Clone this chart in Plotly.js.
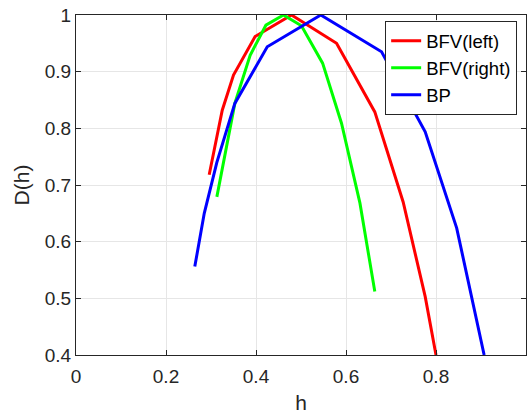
<!DOCTYPE html>
<html>
<head>
<meta charset="utf-8">
<script src="https://cdn.plot.ly/plotly-3.0.1.min.js"></script>
<style>html,body{margin:0;padding:0;background:#fff;}#chart{width:531px;height:414px;}</style>
</head>
<body>
<div id="chart"></div>
<script>
// BFV(left)
const leftH = [0.296, 0.325, 0.350, 0.398, 0.479, 0.579, 0.664, 0.727, 0.776, 0.800];
const leftD = [0.718, 0.832, 0.894, 0.962, 1.000, 0.950, 0.829, 0.670, 0.503, 0.400];
// BFV(right)
const rightH = [0.313, 0.353, 0.387, 0.422, 0.461, 0.501, 0.548, 0.590, 0.631, 0.664];
const rightD = [0.679, 0.844, 0.929, 0.982, 1.000, 0.981, 0.915, 0.809, 0.668, 0.512];
// BP
const bpH = [0.264, 0.285, 0.313, 0.353, 0.425, 0.544, 0.679, 0.776, 0.846, 0.907];
const bpD = [0.556, 0.650, 0.740, 0.844, 0.944, 1.000, 0.935, 0.794, 0.624, 0.400];

const seriesNames = ['BFV(left)', 'BFV(right)', 'BP'];
const xTicks = [0, 0.2, 0.4, 0.6, 0.8, 1];
const xTickText = ['0', '0.2', '0.4', '0.6', '0.8', '1'];
const yTicks = [0.4, 0.5, 0.6, 0.7, 0.8, 0.9, 1];
const yTickText = ['0.4', '0.5', '0.6', '0.7', '0.8', '0.9', '1'];

const font = 'Liberation Sans, Arial, sans-serif';
const traces = [
  {x: leftH, y: leftD, name: seriesNames[0], mode: 'lines', line: {color: '#ff0000', width: 3}},
  {x: rightH, y: rightD, name: seriesNames[1], mode: 'lines', line: {color: '#00ff00', width: 3}},
  {x: bpH, y: bpD, name: seriesNames[2], mode: 'lines', line: {color: '#0000ff', width: 3}}
];
const axisCommon = {
  showline: true, linecolor: '#262626', linewidth: 1, mirror: 'ticks',
  ticks: 'inside', ticklen: 5, tickcolor: '#262626', tickwidth: 1,
  showgrid: true, gridcolor: '#e6e6e6', gridwidth: 1, zeroline: false,
  tickfont: {family: font, size: 19, color: '#262626'}
};
const layout = {
  width: 531, height: 414,
  margin: {l: 76, r: 5, t: 15, b: 59},
  paper_bgcolor: '#ffffff', plot_bgcolor: '#ffffff',
  showlegend: true,
  legend: {x: 0.687, y: 0.982, xanchor: 'left', yanchor: 'top',
    bgcolor: '#ffffff', bordercolor: '#262626', borderwidth: 1,
    font: {family: font, size: 18.5, color: '#000000'}, tracegroupgap: 0, itemwidth: 30},
  xaxis: Object.assign({}, axisCommon, {range: [0, 1], tickvals: xTicks, ticktext: xTickText,
    ticklabelstandoff: 4,
    title: {text: 'h', font: {family: font, size: 21, color: '#262626'}, standoff: 18}}),
  yaxis: Object.assign({}, axisCommon, {range: [0.4, 1], tickvals: yTicks, ticktext: yTickText,
    title: {text: 'D(h)', font: {family: font, size: 21, color: '#262626'}, standoff: 9}})
};
Plotly.newPlot('chart', traces, layout, {displayModeBar: false, staticPlot: true});
</script>
</body>
</html>
